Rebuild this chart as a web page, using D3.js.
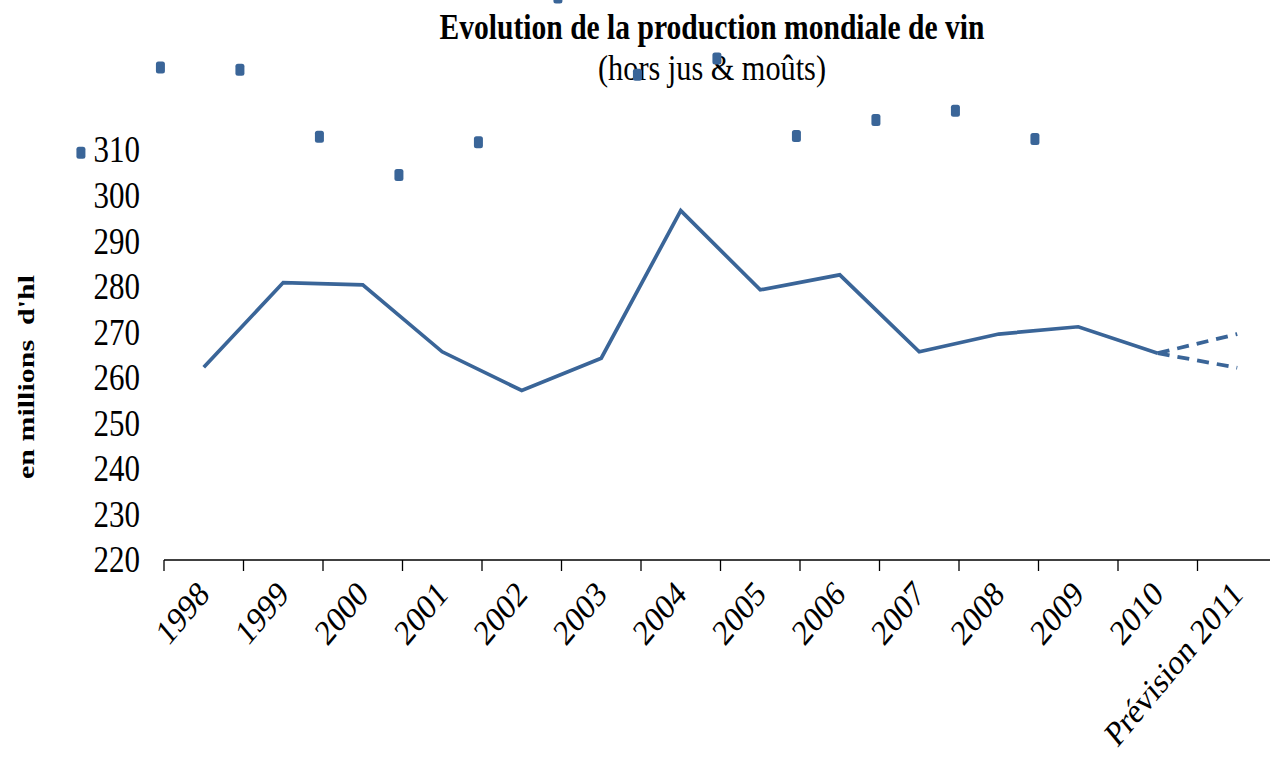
<!DOCTYPE html>
<html>
<head>
<meta charset="utf-8">
<script src="https://cdn.jsdelivr.net/npm/d3@7"></script>
<style>
  body { margin: 0; background: #fff; }
  svg { display: block; font-family: "Liberation Serif", "Times New Roman", serif; }
</style>
</head>
<body>
<svg id="chart"></svg>
<script>
// categories on the x axis
var categories = ['1998', '1999', '2000', '2001', '2002', '2003', '2004', '2005',
    '2006', '2007', '2008', '2009', '2010', 'Prévision 2011'];

// world wine production (millions hl), 1998 -> 2010
var production = [262.3, 280.9, 280.4, 265.7, 257.2, 264.3, 296.7, 279.3,
    282.6, 265.7, 269.6, 271.2, 265.4];

// 2011 forecast, low and high estimate
var forecast = [262.2, 269.6];

// stray square markers drawn above the line
var markers = [309.4, 328.1, 327.6, 312.9, 304.5, 311.7, 343.5, 326.5,
    330.1, 313.1, 316.6, 318.6, 312.4];

var yTicks = [220, 230, 240, 250, 260, 270, 280, 290, 300, 310];

var W = 1270, H = 757;
var blue = '#3a6598';
var stretch = 1.2; // text in the source image is a bit taller than wide

var svg = d3.select('#chart').attr('width', W).attr('height', H);

var x = d3.scaleBand()
    .domain(categories)
    .range([164, 164 + categories.length * 79.5])
    .padding(0);

var y = d3.scaleLinear()
    .domain([220, 310])
    .range([560, 150]);

var cx = function (c) { return x(c) + x.bandwidth() / 2; };

// title
svg.append('text')
    .attr('transform', 'translate(712,39) scale(1,' + stretch + ')')
    .attr('text-anchor', 'middle')
    .attr('font-weight', 'bold')
    .attr('font-size', 30)
    .attr('textLength', 545)
    .attr('lengthAdjust', 'spacingAndGlyphs')
    .text('Evolution de la production mondiale de vin');

svg.append('text')
    .attr('transform', 'translate(712,80) scale(1,' + stretch + ')')
    .attr('text-anchor', 'middle')
    .attr('font-size', 30)
    .attr('textLength', 228)
    .attr('lengthAdjust', 'spacingAndGlyphs')
    .text('(hors jus & moûts)');

// y axis (labels only)
var yAxis = svg.append('g')
    .attr('class', 'y-axis')
    .attr('transform', 'translate(164,0)')
    .call(d3.axisLeft(y).tickValues(yTicks).tickSize(0).tickPadding(24));

yAxis.select('.domain').remove();
yAxis.selectAll('text')
    .attr('font-family', '"Liberation Serif", serif')
    .attr('font-size', 31)
    .attr('fill', '#000')
    .attr('transform', 'scale(1,' + stretch + ')');

svg.append('text')
    .attr('transform', 'translate(34,377) scale(1,' + stretch + ') rotate(-90)')
    .attr('text-anchor', 'middle')
    .attr('font-weight', 'bold')
    .attr('font-size', 23)
    .attr('textLength', 170)
    .attr('lengthAdjust', 'spacingAndGlyphs')
    .style('white-space', 'pre')
    .text("en millions  d'hl");

// x axis: line + ticks on category boundaries
var xAxis = svg.append('g').attr('class', 'x-axis');

xAxis.append('line')
    .attr('x1', x.range()[0])
    .attr('x2', x.range()[1])
    .attr('y1', y(220))
    .attr('y2', y(220))
    .style('stroke', '#000')
    .style('stroke-width', 1.3);

xAxis.selectAll('.tick')
    .data(categories)
    .enter()
    .append('line')
    .attr('class', 'tick')
    .attr('x1', function (d) { return x(d); })
    .attr('x2', function (d) { return x(d); })
    .attr('y1', y(220))
    .attr('y2', y(220) + 11)
    .style('stroke', '#000')
    .style('stroke-width', 1.3);

xAxis.selectAll('.label')
    .data(categories)
    .enter()
    .append('text')
    .attr('class', 'label')
    .attr('transform', function (d) {
        return 'translate(' + (cx(d) + 7) + ',' + 596 + ') scale(1,' + stretch + ') rotate(-45)';
    })
    .attr('text-anchor', 'end')
    .attr('font-size', 30)
    .text(function (d) { return d; });

// production line
var line = d3.line()
    .x(function (d, i) { return cx(categories[i]); })
    .y(function (d) { return y(d); });

svg.append('path')
    .datum(production)
    .attr('fill', 'none')
    .attr('stroke', blue)
    .attr('stroke-width', 3.7)
    .attr('stroke-linejoin', 'miter')
    .attr('d', line);

// forecast range, dashed
var last = production.length - 1;
svg.selectAll('.forecast')
    .data(forecast)
    .enter()
    .append('line')
    .attr('class', 'forecast')
    .attr('x1', cx(categories[last]))
    .attr('y1', y(production[last]))
    .attr('x2', cx(categories[last + 1]))
    .attr('y2', function (d) { return y(d); })
    .attr('stroke', blue)
    .attr('stroke-width', 3.8)
    .attr('stroke-dasharray', '12,8');

// markers, offset about one step to the left of each category
var shift = -1.045 * x.step();
svg.selectAll('.marker')
    .data(markers)
    .enter()
    .append('rect')
    .attr('class', 'marker')
    .attr('x', function (d, i) { return x(categories[i]) + shift - 4.5; })
    .attr('y', function (d) { return y(d) - 6; })
    .attr('width', 9)
    .attr('height', 12)
    .attr('rx', 2.5)
    .attr('fill', blue);
</script>
</body>
</html>
